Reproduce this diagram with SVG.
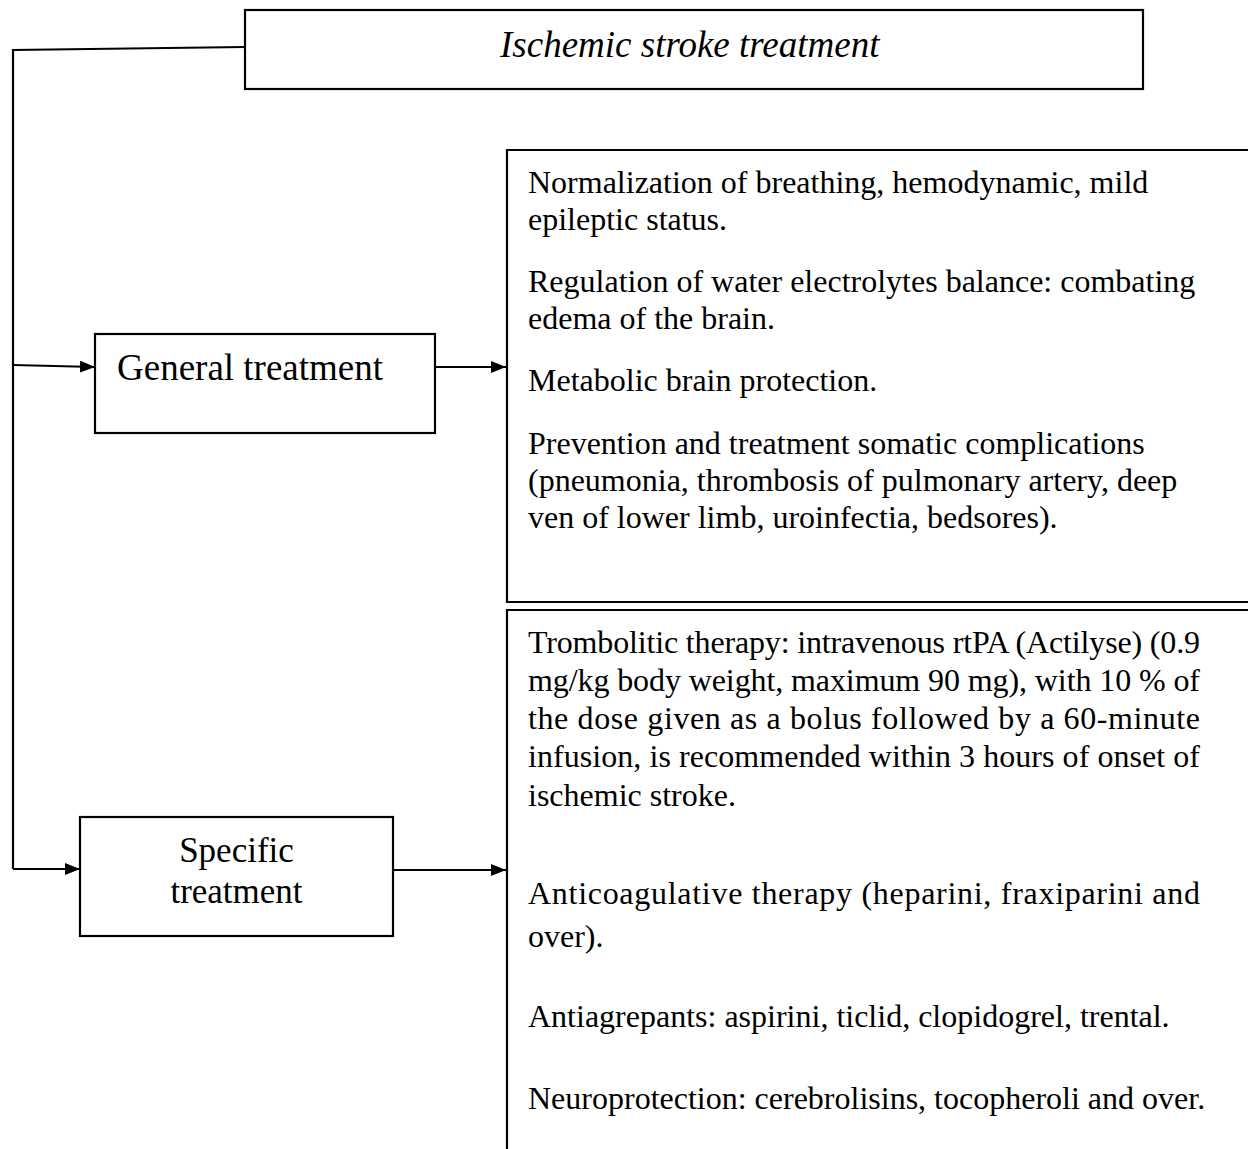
<svg xmlns="http://www.w3.org/2000/svg" width="1248" height="1149" viewBox="0 0 1248 1149">
  <style>
    .box { fill: #fff; stroke: #000; stroke-width: 2.2; }
    .wire { fill: none; stroke: #000; stroke-width: 2.2; }
    .t { font-family: "Liberation Serif", "Times New Roman", serif; fill: #000; }
    .body { font-size: 32px; }
    .head { font-size: 37px; }
  </style>
  <defs>
    <marker id="arrow" viewBox="0 0 15 12" refX="15" refY="6" markerWidth="15" markerHeight="12" markerUnits="userSpaceOnUse" orient="auto">
      <path d="M0,0 L15,6 L0,12 Z" fill="#000"/>
    </marker>
  </defs>

  <rect width="1248" height="1149" fill="#fff"/>

  <g id="title">
    <rect class="box" x="245" y="10" width="898" height="79"/>
    <text class="t head" x="500" y="57" font-style="italic">Ischemic stroke treatment</text>
  </g>

  <g id="general">
    <rect class="box" x="95" y="334" width="340" height="99"/>
    <text class="t head" x="117" y="380">General treatment</text>
  </g>

  <g id="specific">
    <rect class="box" x="80" y="817" width="313" height="119"/>
    <text class="t" font-size="35" x="236.5" y="862" text-anchor="middle">Specific</text>
    <text class="t" font-size="35" x="236.5" y="903" text-anchor="middle">treatment</text>
  </g>

  <g id="general-details">
    <path class="wire" d="M1250,150 H507 V602 H1250"/>
    <g class="t body">
      <text x="528" y="193">Normalization of breathing, hemodynamic, mild</text>
      <text x="528" y="230">epileptic status.</text>
      <text x="528" y="292">Regulation of water electrolytes balance: combating</text>
      <text x="528" y="329">edema of the brain.</text>
      <text x="528" y="391">Metabolic brain protection.</text>
      <text x="528" y="454">Prevention and treatment somatic complications</text>
      <text x="528" y="491">(pneumonia, thrombosis of pulmonary artery, deep</text>
      <text x="528" y="528">ven of lower limb, uroinfectia, bedsores).</text>
    </g>
  </g>

  <g id="specific-details">
    <path class="wire" d="M1250,610 H507 V1152"/>
    <g class="t body">
      <text x="528" y="653" textLength="672" lengthAdjust="spacing">Trombolitic therapy: intravenous rtPA (Actilyse) (0.9</text>
      <text x="528" y="691" textLength="672" lengthAdjust="spacing">mg/kg body weight, maximum 90 mg), with 10 % of</text>
      <text x="528" y="729" textLength="672" lengthAdjust="spacing">the dose given as a bolus followed by a 60-minute</text>
      <text x="528" y="767" textLength="672" lengthAdjust="spacing">infusion, is recommended within 3 hours of onset of</text>
      <text x="528" y="806">ischemic stroke.</text>
      <text x="528" y="904" textLength="672" lengthAdjust="spacing">Anticoagulative therapy (heparini, fraxiparini and</text>
      <text x="528" y="947">over).</text>
      <text x="528" y="1027">Antiagrepants: aspirini, ticlid, clopidogrel, trental.</text>
      <text x="528" y="1109">Neuroprotection: cerebrolisins, tocopheroli and over.</text>
    </g>
  </g>

  <g id="connectors">
    <path class="wire" d="M245,47 L13,50 V869"/>
    <path class="wire" d="M13,365 L95,367" marker-end="url(#arrow)"/>
    <path class="wire" d="M13,869 H80" marker-end="url(#arrow)"/>
    <path class="wire" d="M435,367 H506" marker-end="url(#arrow)"/>
    <path class="wire" d="M393,870 H506" marker-end="url(#arrow)"/>
  </g>
</svg>
